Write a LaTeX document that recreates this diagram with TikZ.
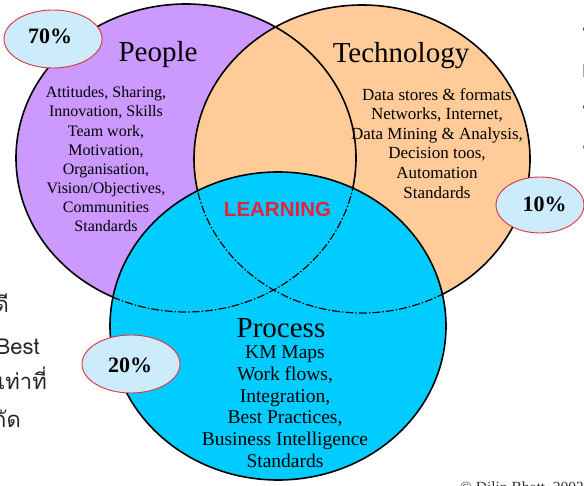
\documentclass[tikz,border=0pt]{standalone}
\usepackage{fontspec}
\setmainfont{Liberation Serif}
\newfontfamily\labelsans{Liberation Sans}
\newfontfamily\thaifont[Script=Thai]{Loma}
\definecolor{peoplefill}{HTML}{CC99FF}
\definecolor{techfill}{HTML}{FFCC99}
\definecolor{procfill}{HTML}{00CCFF}
\definecolor{pctfill}{HTML}{CCEBFB}
\definecolor{pctedge}{HTML}{E0303A}
\definecolor{learnred}{HTML}{E8213A}
\begin{document}
\begin{tikzpicture}[x=1pt,y=-1pt,
  outline/.style={draw=black, line width=1.6pt},
  hidden/.style={draw=black, line width=1.2pt, dash pattern=on 8pt off 2pt on 1.5pt off 2pt},
  pct/.style={draw=pctedge, line width=0.9pt, fill=pctfill},
  pcttext/.style={font=\fontsize{22}{24}\selectfont\bfseries, inner sep=0pt, anchor=base},
  heading/.style={font=\fontsize{29}{32}\selectfont, inner sep=0pt, anchor=base},
  items/.style={align=center, inner sep=0pt, anchor=north, font=\fontsize{16}{19.1}\selectfont},
  techitems/.style={align=center, inner sep=0pt, anchor=north, font=\fontsize{17}{19.6}\selectfont},
  procitems/.style={align=center, inner sep=0pt, anchor=north, font=\fontsize{19.5}{21.8}\selectfont},
  slidetext/.style={font=\thaifont\fontsize{22}{24}\selectfont, inner sep=0pt, anchor=base east, text=black!85},
]
\useasboundingbox (0,0) rectangle (584,486);
\clip (0,0) rectangle (584,486);

% centres of the three sets
\coordinate (P) at (186,158);
\coordinate (T) at (362,159);
\coordinate (R) at (278,326);

% fills: people, technology, then process on top
\fill[peoplefill] (P) ellipse [x radius=170pt, y radius=154pt];
\fill[techfill] (T) ellipse [x radius=168pt, y radius=154pt];
\draw[outline] (P) ellipse [x radius=170pt, y radius=154pt];
\draw[outline] (T) ellipse [x radius=168pt, y radius=154pt];
\fill[procfill] (R) ellipse [x radius=168pt, y radius=154pt];

% arcs of the upper sets that run through the process set
\begin{scope}
  \clip (R) ellipse [x radius=168pt, y radius=154pt];
  \draw[hidden] (P) ellipse [x radius=170pt, y radius=154pt];
  \draw[hidden] (T) ellipse [x radius=168pt, y radius=154pt];
\end{scope}
\draw[outline] (R) ellipse [x radius=168pt, y radius=154pt];

% headings
\node[heading] (people) at (158,62) {People};
\node[heading] (tech) at (401,63) {Technology};
\node[heading] (proc) at (281,338) {Process};

% contents of each set
\node[items] (peoplelist) at (106,86.5) {Attitudes, Sharing,\\Innovation, Skills\\Team work,\\Motivation,\\Organisation,\\Vision/Objectives,\\Communities\\Standards};
\node[techitems] (techlist) at (437,88) {Data stores \& formats\\Networks, Internet,\\Data Mining \& Analysis,\\Decision toos,\\Automation\\Standards};
\node[procitems] (proclist) at (285,345.5) {KM Maps\\Work flows,\\Integration,\\Best Practices,\\Business Intelligence\\Standards};

% centre of the diagram
\node[font=\labelsans\bfseries\fontsize{20.5}{22}\selectfont, text=learnred, inner sep=0pt, anchor=base] (learning) at (277.5,217) {LEARNING};

% shares
\draw[pct] (53,39) ellipse [x radius=49pt, y radius=29pt];
\node[pcttext] (p70) at (50,44) {70\%};
\draw[pct] (540,205) ellipse [x radius=44pt, y radius=28pt];
\node[pcttext] (p10) at (544.5,212) {10\%};
\draw[pct] (131,364) ellipse [x radius=49pt, y radius=29pt];
\node[pcttext] (p20) at (130,373) {20\%};

% slide text running in from the left edge
\node[slidetext] (s1) at (9,313) {ดี};
\node[slidetext] (s2) at (40,355) {Best};
\node[slidetext] (s3) at (47,390) {รเท่าที่};
\node[slidetext] (s4) at (21,428) {กัด};

% bullets at the right edge
\fill[black!70] (585.5,29) circle (2.6pt);
\fill[black!35] (582.5,64) rectangle (584,77);
\fill[black!70] (585.5,107) circle (2.6pt);
\fill[black!55] (585.5,147) circle (2.6pt);

% credit line
\node[font=\fontsize{15.5}{17}\selectfont, inner sep=0pt, anchor=base west, text=black!80] (credit) at (460,492) {© Dilip Bhatt, 2003};
\end{tikzpicture}
\end{document}
